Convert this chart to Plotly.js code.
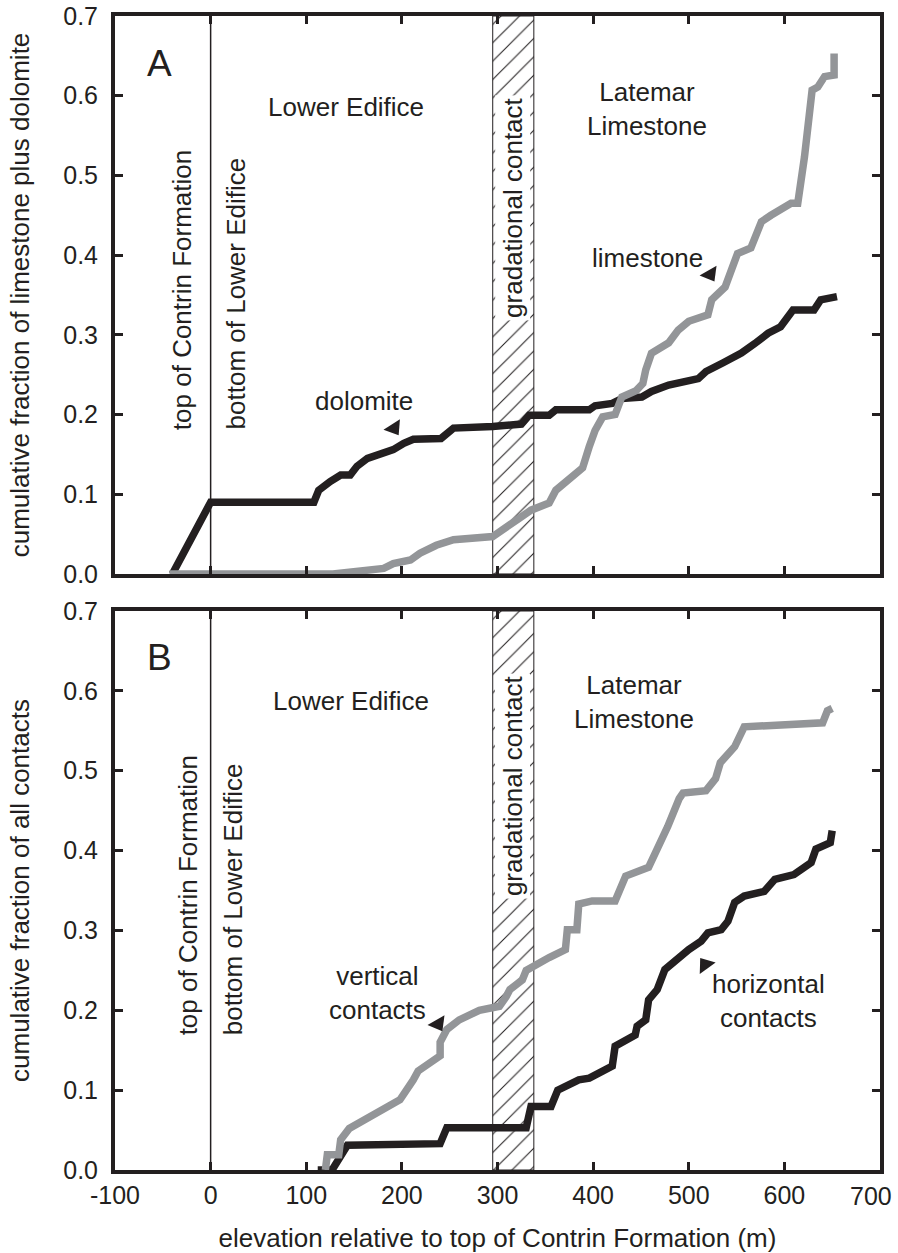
<!DOCTYPE html>
<html>
<head>
<meta charset="utf-8">
<script src="https://cdn.plot.ly/plotly-3.0.1.min.js"></script>
<style>html,body{margin:0;padding:0;background:#fff;}#chart{width:898px;height:1253px;}</style>
</head>
<body>
<div id="chart"></div>
<script>
// ---------- data ----------
const xTickVals = [-100, 0, 100, 200, 300, 400, 500, 600, 700];
const xTickText = ['-100', '0', '100', '200', '300', '400', '500', '600', '700'];
const yTickVals = [0, 0.1, 0.2, 0.3, 0.4, 0.5, 0.6, 0.7];
const yTickText = ['0.0', '0.1', '0.2', '0.3', '0.4', '0.5', '0.6', '0.7'];

const contrinTop = 0;              // top of Contrin Formation (m)
const gradational = [295, 338];    // gradational contact interval (m)

// Panel A
const dolomiteX = [-40, 0, 108, 113, 125, 136, 146, 153, 164, 174, 191, 202, 212, 241, 254, 295, 325, 333, 354, 361, 396, 402, 420, 430, 451, 461, 479, 510, 518, 536, 555, 569, 583, 596, 609, 631, 638, 655];
const dolomiteY = [0, 0.09, 0.09, 0.105, 0.116, 0.124, 0.124, 0.135, 0.145, 0.149, 0.156, 0.164, 0.169, 0.170, 0.183, 0.185, 0.188, 0.199, 0.199, 0.206, 0.206, 0.211, 0.214, 0.22, 0.222, 0.229, 0.237, 0.245, 0.254, 0.265, 0.277, 0.289, 0.302, 0.31, 0.331, 0.331, 0.344, 0.348];

const limestoneX = [-43, 128, 181, 191, 209, 219, 236, 254, 295, 311, 323, 335, 354, 361, 382, 389, 396, 402, 410, 423, 430, 445, 452, 455, 461, 479, 489, 500, 520, 524, 538, 544, 551, 565, 576, 586, 596, 607, 614, 621, 629, 635, 642, 652, 652];
const limestoneY = [0, 0, 0.007, 0.013, 0.0175, 0.026, 0.036, 0.043, 0.047, 0.059, 0.07, 0.08, 0.089, 0.105, 0.124, 0.133, 0.16, 0.18, 0.197, 0.2, 0.222, 0.23, 0.239, 0.256, 0.277, 0.29, 0.306, 0.317, 0.325, 0.344, 0.36, 0.377, 0.402, 0.409, 0.442, 0.45, 0.457, 0.465, 0.465, 0.523, 0.607, 0.611, 0.624, 0.626, 0.653];

// Panel B
const verticalX = [120, 122, 134, 136, 145, 198, 212, 217, 240, 240, 247, 260, 281, 302, 309, 313, 326, 330, 354, 371, 373, 383, 385, 399, 423, 432, 434, 458, 468, 478, 490, 494, 518, 528, 533, 548, 558, 640, 645, 650];
const verticalY = [0, 0.019, 0.019, 0.038, 0.052, 0.088, 0.113, 0.124, 0.143, 0.16, 0.176, 0.188, 0.2, 0.205, 0.217, 0.226, 0.238, 0.25, 0.266, 0.276, 0.301, 0.301, 0.333, 0.337, 0.337, 0.364, 0.368, 0.379, 0.402, 0.43, 0.465, 0.472, 0.475, 0.49, 0.51, 0.53, 0.555, 0.56, 0.575, 0.578];

const horizontalX = [112, 127, 143, 240, 247, 330, 335, 356, 363, 371, 385, 396, 420, 423, 430, 444, 446, 455, 458, 463, 467, 475, 479, 489, 500, 513, 520, 534, 541, 548, 558, 579, 590, 610, 628, 633, 640, 648, 650];
const horizontalY = [0, 0, 0.031, 0.033, 0.053, 0.053, 0.0795, 0.0795, 0.1, 0.1045, 0.113, 0.115, 0.13, 0.155, 0.159, 0.169, 0.18, 0.188, 0.213, 0.222, 0.226, 0.251, 0.255, 0.268, 0.276, 0.2865, 0.297, 0.301, 0.3115, 0.335, 0.343, 0.349, 0.364, 0.37, 0.385, 0.402, 0.405, 0.41, 0.425];

// ---------- style ----------
const INK = '#231f20';
const GREY = '#939598';
const FONT = 'Liberation Sans, Arial, Helvetica, sans-serif';
const YMAX = 0.7;

function hatch(xa, ya) {
  return {
    x: [gradational[0], gradational[1], gradational[1], gradational[0], gradational[0]],
    y: [0, 0, YMAX, YMAX, 0],
    xaxis: xa, yaxis: ya, mode: 'lines', fill: 'toself',
    fillcolor: 'white',
    fillpattern: {shape: '/', size: 13, solidity: 0.08, fgcolor: INK, bgcolor: 'white'},
    line: {color: INK, width: 1}, hoverinfo: 'skip', showlegend: false
  };
}
function curve(x, y, color, xa, ya) {
  return {x: x, y: y, xaxis: xa, yaxis: ya, mode: 'lines',
          line: {color: color, width: 7.5, shape: 'linear'}, hoverinfo: 'skip', showlegend: false};
}
function arrow(x, y, ang, xa, ya) {
  return {x: [x], y: [y], xaxis: xa, yaxis: ya, mode: 'markers',
          marker: {symbol: 'triangle-up', size: 17, color: INK, angle: ang, line: {width: 0}},
          hoverinfo: 'skip', showlegend: false};
}

const traces = [
  hatch('x', 'y'),
  curve(dolomiteX, dolomiteY, INK, 'x', 'y'),
  curve(limestoneX, limestoneY, GREY, 'x', 'y'),
  arrow(191.8, 0.183, 147, 'x', 'y'),
  arrow(522.4, 0.376, 150, 'x', 'y'),
  hatch('x2', 'y2'),
  curve(horizontalX, horizontalY, INK, 'x2', 'y2'),
  curve(verticalX, verticalY, GREY, 'x2', 'y2'),
  arrow(237.9, 0.183, 150, 'x2', 'y2'),
  arrow(517.2, 0.257, 324, 'x2', 'y2')
];

// last x tick label sits against the page edge: drawn as an annotation so it stays inside
const lastIdx = xTickVals.length - 1;
const xTickTextAxis = xTickText.map((t, i) => (i === lastIdx ? '' : t));

const xBase = {
  range: [-100, 700], showgrid: false, zeroline: false,
  showline: true, linewidth: 4, linecolor: INK, mirror: 'ticks',
  ticks: 'inside', ticklen: 8, tickwidth: 3, tickcolor: INK,
  tickvals: xTickVals, ticktext: xTickTextAxis,
  tickfont: {family: FONT, size: 25, color: INK}
};
const yBase = {
  range: [0, YMAX], showgrid: false, zeroline: false,
  showline: true, linewidth: 4, linecolor: INK, mirror: 'ticks',
  ticks: 'inside', ticklen: 8, tickwidth: 3, tickcolor: INK,
  tickvals: yTickVals, ticktext: yTickText, ticklabelstandoff: 8,
  tickfont: {family: FONT, size: 25, color: INK}
};

function ann(text, x, y, xref, yref, opts) {
  return Object.assign({text: text, x: x, y: y, xref: xref, yref: yref, showarrow: false,
    xanchor: 'center', yanchor: 'middle', font: {family: FONT, size: 26, color: INK}}, opts || {});
}

const annotations = [
  ann('A', -53, 0.641, 'x', 'y', {font: {family: FONT, size: 37, color: INK}}),
  ann('Lower Edifice', 142, 0.586, 'x', 'y'),
  ann('Latemar<br>Limestone', 456, 0.583, 'x', 'y'),
  ann('top of Contrin Formation', -30, 0.356, 'x', 'y', {textangle: -90}),
  ann('bottom of Lower Edifice', 26.6, 0.352, 'x', 'y', {textangle: -90}),
  ann('gradational contact', 316, 0.459, 'x', 'y', {textangle: -90, bgcolor: 'white', borderpad: 2}),
  ann('dolomite', 160.5, 0.217, 'x', 'y'),
  ann('limestone', 456.5, 0.3965, 'x', 'y'),

  ann('B', -53, 0.642, 'x2', 'y2', {font: {family: FONT, size: 37, color: INK}}),
  ann('Lower Edifice', 147, 0.587, 'x2', 'y2'),
  ann('Latemar<br>Limestone', 443, 0.586, 'x2', 'y2'),
  ann('top of Contrin Formation', -23.6, 0.344, 'x2', 'y2', {textangle: -90}),
  ann('bottom of Lower Edifice', 23.4, 0.339, 'x2', 'y2', {textangle: -90}),
  ann('gradational contact', 316, 0.4805, 'x2', 'y2', {textangle: -90, bgcolor: 'white', borderpad: 2}),
  ann('vertical<br>contacts', 174, 0.222, 'x2', 'y2'),
  ann('horizontal<br>contacts', 583, 0.212, 'x2', 'y2'),

  ann(xTickText[lastIdx], xTickVals[lastIdx], 0, 'x2', 'y2',
      {xanchor: 'right', xshift: 14, yshift: -26, font: {family: FONT, size: 25, color: INK}})
];

const shapes = [
  {type: 'line', xref: 'x', yref: 'y domain', x0: contrinTop, x1: contrinTop, y0: 0, y1: 1, line: {color: INK, width: 1.5}},
  {type: 'line', xref: 'x2', yref: 'y2 domain', x0: contrinTop, x1: contrinTop, y0: 0, y1: 1, line: {color: INK, width: 1.5}}
];

const layout = {
  width: 898, height: 1253,
  margin: {l: 115, r: 18, t: 16, b: 83},
  paper_bgcolor: 'white', plot_bgcolor: 'white',
  showlegend: false, hovermode: false,
  font: {family: FONT, color: INK},
  xaxis: Object.assign({}, xBase, {anchor: 'y', showticklabels: false}),
  yaxis: Object.assign({}, yBase, {domain: [0.5165, 1], anchor: 'x',
    title: {text: 'cumulative fraction of limestone plus dolomite', font: {family: FONT, size: 26, color: INK}, standoff: 27}}),
  xaxis2: Object.assign({}, xBase, {anchor: 'y2',
    title: {text: 'elevation relative to top of Contrin Formation (m)', font: {family: FONT, size: 26, color: INK}, standoff: 22}}),
  yaxis2: Object.assign({}, yBase, {domain: [0, 0.4844], anchor: 'x2',
    title: {text: 'cumulative fraction of all contacts', font: {family: FONT, size: 26, color: INK}, standoff: 27}}),
  annotations: annotations,
  shapes: shapes
};

Plotly.newPlot('chart', traces, layout, {staticPlot: true, displayModeBar: false});
</script>
</body>
</html>
